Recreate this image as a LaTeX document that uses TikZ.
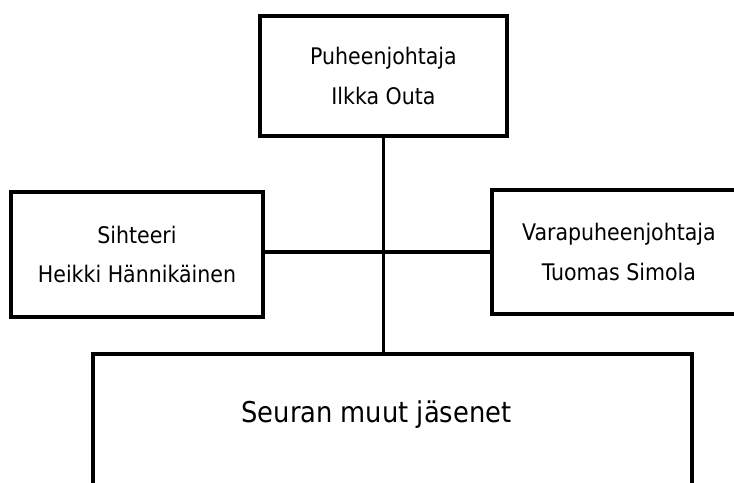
\documentclass[tikz,border=0pt]{standalone}
\usepackage{fontspec}
\setmainfont{DejaVu Sans Condensed}

\tikzset{
	rolebox/.style={draw, line width=2.3pt, align=center, inner sep=0pt,
		font=\fontsize{13}{22.5}\selectfont},
	link/.style={line width=2pt}
}

\begin{document}
\begin{tikzpicture}[x=0.02cm,y=-0.02cm]
	\useasboundingbox (0,0) rectangle (734,483);
	\clip (0,0) rectangle (734,483);
	% board of the club
	\node[rolebox, minimum width=4.94cm, minimum height=2.4cm] (chair) at (383.5,76) {Puheenjohtaja\\Ilkka Outa};
	\node[rolebox, minimum width=5.04cm, minimum height=2.5cm] (secretary) at (137,254.5) {Sihteeri\\Heikki Hännikäinen};
	\node[rolebox, minimum width=5.08cm, minimum height=2.48cm] (vice) at (619,252) {Varapuheenjohtaja\\Tuomas Simola};
	% everybody else, box runs off the bottom
	\node[rolebox, anchor=north, minimum width=11.98cm, text height=1.36cm, text depth=2cm,
		font=\fontsize{16.3}{18}\selectfont] (members) at (392.5,352) {Seuran muut jäsenet\hspace*{0.64cm}};
	\coordinate (mid) at (0,252);
	\draw[link] (chair.south) -- (chair.south |- members.north);
	\draw[link] (secretary.east |- mid) -- (vice.west |- mid);
\end{tikzpicture}
\end{document}
